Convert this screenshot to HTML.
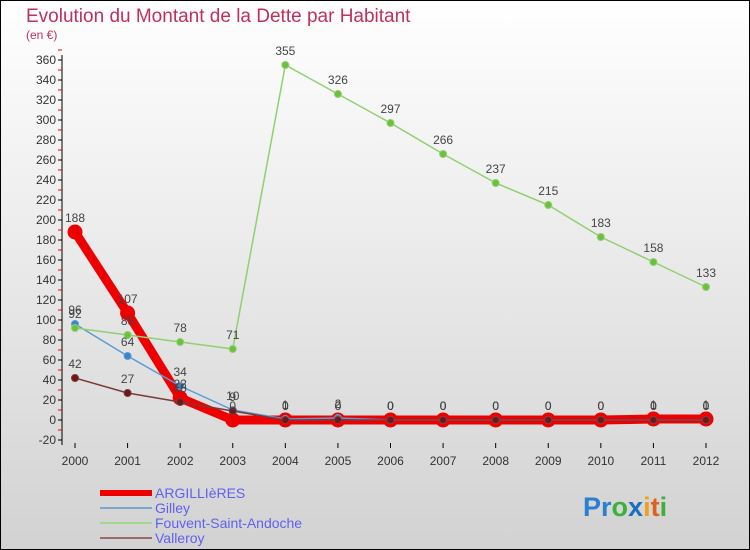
<!DOCTYPE html>
<html><head><meta charset="utf-8"><style>
body{margin:0;}
#c{width:750px;height:550px;position:relative;overflow:hidden;font-family:"Liberation Sans",sans-serif;}
</style></head><body>
<div id="c">
<svg id="s" width="750" height="550" xmlns="http://www.w3.org/2000/svg">
<defs><linearGradient id="bg" x1="0" y1="0" x2="0" y2="1"><stop offset="0" stop-color="#ffffff"/><stop offset="1" stop-color="#d2d2d2"/></linearGradient></defs>
<rect x="0.5" y="0.5" width="749" height="549" fill="url(#bg)" stroke="#000"/>
<text x="26" y="22" font-size="19" fill="#c0305a">Evolution du Montant de la Dette par Habitant</text>
<text x="26" y="39" font-size="12" fill="#c0305a">(en €)</text>
<g id="axes"></g><g id="series"></g><g id="labels"></g>
<g id="legend"></g>
<text x="583" y="516" font-size="27" font-weight="bold"><tspan fill="#2a7fd0">Pr</tspan><tspan fill="#3bb03b">o</tspan><tspan fill="#1a6fc0">x</tspan><tspan fill="#f0a020">i</tspan><tspan fill="#e06020">t</tspan><tspan fill="#3bb03b">i</tspan></text>
</svg>
</div>
<script>
const years=[2000,2001,2002,2003,2004,2005,2006,2007,2008,2009,2010,2011,2012];
const argillieres=[188,107,22,0,0,0,0,0,0,0,0,1,1];
const gilley=[96,64,34,10,1,2,0,0,0,0,0,0,0];
const fouvent=[92,85,78,71,355,326,297,266,237,215,183,158,133];
const valleroy=[42,27,18,9,0,0,0,0,0,0,0,0,0];
const yTicks=[-20,0,20,40,60,80,100,120,140,160,180,200,220,240,260,280,300,320,340,360];
const NS="http://www.w3.org/2000/svg";
const X=i=>75+i*(706-75)/(years.length-1);
const Y=v=>420-v*(360/360);
function mk(t,a,p){const e=document.createElementNS(NS,t);for(const k in a)e.setAttribute(k,a[k]);p.appendChild(e);return e;}
const ax=document.getElementById('axes');
let l=mk('line',{x1:62,y1:Y(-25),x2:62,y2:Y(365),stroke:'#000','stroke-width':1},ax);


yTicks.forEach(v=>{
  let t=mk('line',{x1:58,y1:Y(v),x2:62,y2:Y(v),stroke:'#000'},ax);
  
  
  let m=mk('line',{x1:58,y1:Y(v+10),x2:62,y2:Y(v+10),stroke:'#e00'},ax);
  
  
  let tx=mk('text',{x:56,y:Y(v)+4,'font-size':12,fill:'#333','text-anchor':'end'},ax);
  tx.textContent=v;
  
  
});
years.forEach((y,i)=>{
  let t=mk('line',{x1:X(i),y1:443,x2:X(i),y2:448,stroke:'#000'},ax);
  
  
  let tx=mk('text',{x:X(i),y:465,'font-size':12,fill:'#333','text-anchor':'middle'},ax);
  tx.textContent=y;
  
  
});
const S=document.getElementById('series'),L=document.getElementById('labels');
function draw(data,color,w,r,dot,name){
  let p=mk('polyline',{points:data.map((v,i)=>X(i)+','+Y(v)).join(' '),fill:'none',stroke:color,'stroke-width':w,'stroke-linejoin':'round'},S);
  
  
  data.forEach((v,i)=>{
    let c=mk('circle',{cx:X(i),cy:Y(v),r:r,fill:dot,stroke:color,'stroke-width':1},S);
    
    
    let t=mk('text',{x:X(i),y:Y(v)-10,'font-size':12,fill:'#444','text-anchor':'middle'},L);
    t.textContent=v;
    
    
  });
}
draw(argillieres,'#ee0000',9,7,'#ee0000','argillieres');
draw(gilley,'#5b9bd5',1.5,3.5,'#3a84c8','gilley');
draw(fouvent,'#90d070',1.5,3.5,'#6cc040','fouvent');
draw(valleroy,'#7a3a3a',1.5,3.5,'#6a1a1a','valleroy');
const lg=document.getElementById('legend');
const lgItems=[['ARGILLIèRES','#ee0000',6],['Gilley','#7aa6cc',2],['Fouvent-Saint-Andoche','#a0d890',2],['Valleroy','#9a6a6a',2]];
lgItems.forEach((it,i)=>{
  const y=493+i*15;
  let ln=mk('line',{x1:100,y1:y,x2:152,y2:y,stroke:it[1],'stroke-width':it[2]},lg);
  
  
  let t=mk('text',{x:155,y:y+5,'font-size':14,fill:'#6060ee'},lg);
  t.textContent=it[0];
  
  
});
</script>
</body></html>
